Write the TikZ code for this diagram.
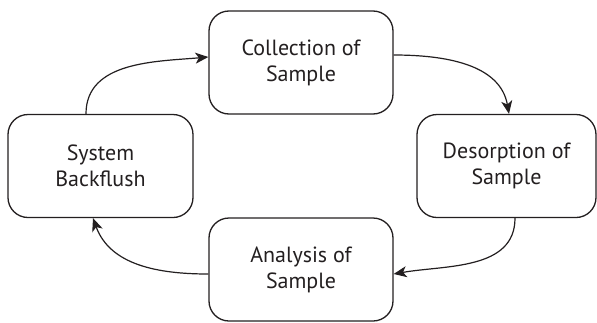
\documentclass[tikz,border=0pt]{standalone}
\usepackage{fontspec}
\setmainfont{PT Sans}
\usepackage{tikz}
\usetikzlibrary{arrows.meta}
\usepackage{xcolor}
\definecolor{ink}{HTML}{231F20}
\tikzstyle{stage} = [rectangle, rounded corners=20pt, minimum width=184pt,
minimum height=103pt, text centered, align=center, draw=ink, text=ink,
line width=1.3pt, font=\fontsize{22}{26}\selectfont]
\tikzstyle{arrow} = [line width=1.2pt, draw=ink,
-{Stealth[length=13pt,width=11pt,inset=3.5pt]}]

\begin{document}
\begin{tikzpicture}[node distance=103.5pt]
  \useasboundingbox (-301pt,62.5pt) rectangle (296pt,-259.5pt);
  % Stages of the cycle
  \node (collect) [stage] {Collection of\\Sample};
  \node (desorb) [stage, below of=collect, xshift=205.5pt,
                  minimum width=179pt] {Desorption of\\Sample};
  \node (analysis) [stage, below of=collect, yshift=-103.5pt]
                   {Analysis of\\Sample};
  \node (backflush) [stage, below of=collect, xshift=-200.5pt,
                     minimum width=185pt] {System\\Backflush};
  % Connections
  \draw [arrow] ([yshift=7.5pt]collect.east) to[out=0, in=100]
                ([xshift=2.5pt]desorb.north);
  \draw [arrow] ([xshift=8.5pt]desorb.south) to[out=-90, in=10]
                ([yshift=-4.5pt]analysis.east);
  \draw [arrow] ([yshift=-4.5pt]analysis.west) to[out=180, in=-70]
                ([xshift=-7.5pt]backflush.south);
  \draw [arrow] ([xshift=-14.5pt]backflush.north) to[out=90, in=185]
                ([yshift=5.5pt]collect.west);
\end{tikzpicture}
\end{document}
